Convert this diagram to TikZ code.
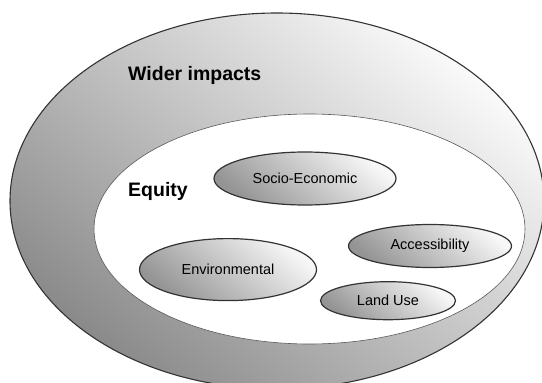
\documentclass[tikz,border=0pt]{standalone}
\usepackage{fontspec}
\setmainfont{Liberation Sans}
\usetikzlibrary{shapes,positioning,calc}

\begin{document}
\begin{tikzpicture}
[x=1pt,y=-1pt,
    zone/.style={shape=ellipse,inner sep=0pt},
    topic/.style={shape=ellipse,draw=black!80,line width=1.2pt,inner sep=0pt,
    shading=axis,top color=black!3,bottom color=black!42,shading angle=-40,
    font=\fontsize{14.5}{16}\selectfont},
    lab/.style={font=\bfseries\fontsize{19.5}{22}\selectfont,inner sep=0pt,anchor=west}]
\useasboundingbox (0,0) rectangle (542,383);
%%%%%%%%%%
%% regions
\node (wider) [zone,draw=black!80,line width=1.1pt,shading=axis,top color=black!2,
bottom color=black!46,shading angle=-40,minimum width=534pt,minimum height=376pt]
at (277,201) {};
\node (equity) [zone,draw=black!65,line width=.6pt,fill=white,minimum width=431pt,
minimum height=230pt] at (309.5,229) {};
%% labels
\node (lw) [lab] at (128,75) {Wider impacts};
\node (le) [lab] at (128,191) {Equity};
%% topics
\node (socio) [topic,minimum width=182pt,minimum height=53pt] at (305,178.5) {Socio-Economic};
\node (access) [topic,minimum width=163pt,minimum height=43pt] at (430,246) {Accessibility};
\node (env) [topic,minimum width=177pt,minimum height=62pt] at (228,269.6) {Environmental};
\node (land) [topic,minimum width=135pt,minimum height=38pt] at (388,300.7) {Land Use};
%%
\end{tikzpicture}
\end{document}
